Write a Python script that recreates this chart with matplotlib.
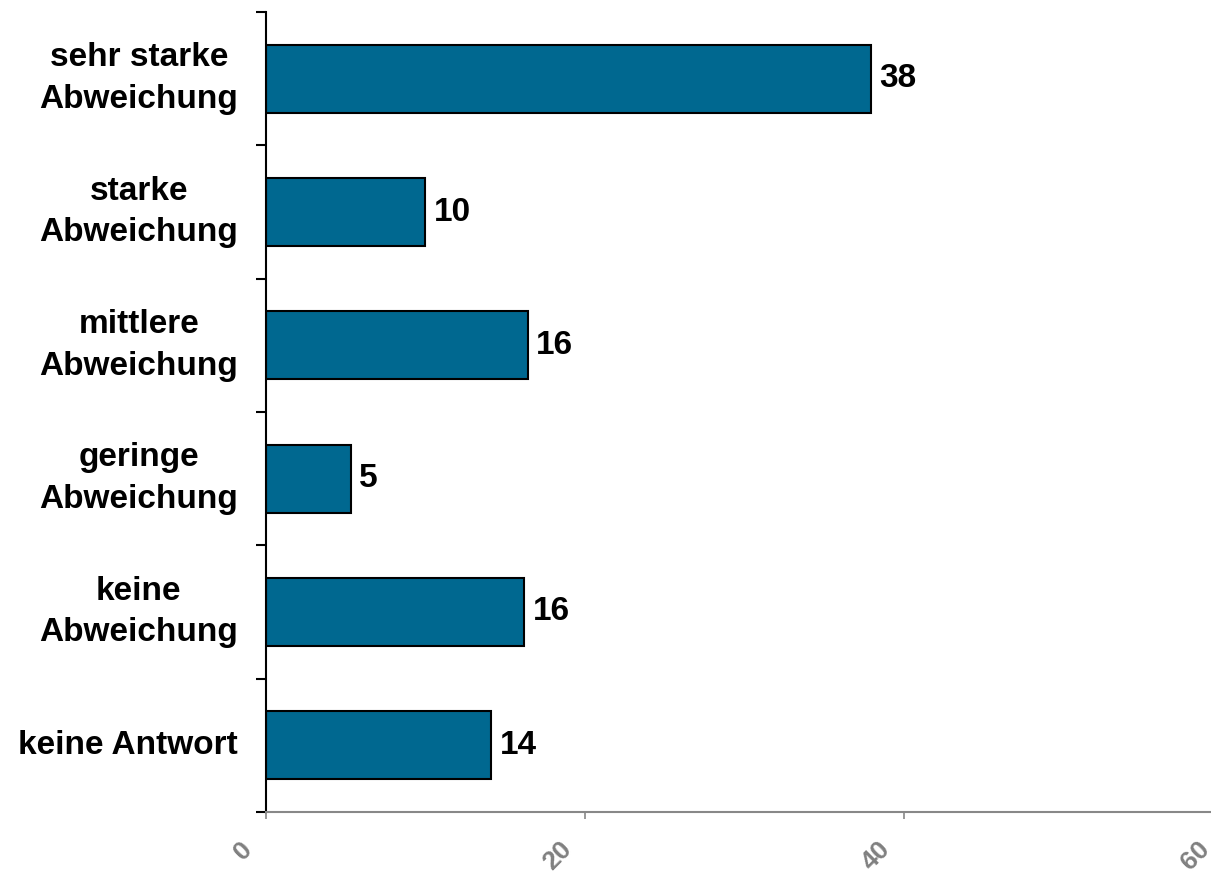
import matplotlib
matplotlib.use("Agg")
import matplotlib.pyplot as plt
import matplotlib.transforms as mtransforms

plt.rcParams['font.family'] = ['Liberation Sans', 'DejaVu Sans']

# survey answers, top to bottom
categories = ["sehr starke\nAbweichung", "starke\nAbweichung", "mittlere\nAbweichung",
              "geringe\nAbweichung", "keine\nAbweichung", "keine Antwort"]
values = [37.9, 10.0, 16.4, 5.3, 16.2, 14.1]
xticks = [0, 20, 40, 60]

bar_color = "#006890"
axis_grey = "#888888"

fig = plt.figure(figsize=(12.11, 8.76), dpi=100)
ax = fig.add_axes([266 / 1211, 1 - 812 / 876, (1223 - 266) / 1211, 800 / 876])

n = len(categories)
pos = list(range(n - 1, -1, -1))
ax.barh(pos, values, height=0.51, color=bar_color, edgecolor="black", linewidth=1.5)

for p, v in zip(pos, values):
    ax.text(v + 0.55, p, f"{v:.0f}", va="center", ha="left",
            fontsize=24, fontweight="bold", color="black")

ax.set_xlim(0, 60)
ax.set_ylim(-0.5, n - 0.5)

# boundaries between categories carry the tick marks, labels sit on minor ticks
ax.set_yticks([i - 0.5 for i in range(n + 1)])
ax.set_yticklabels([])
ax.set_yticks(pos, categories, minor=True)
ax.tick_params(axis="y", which="major", direction="out", length=7, width=1.5, color="black")
ax.tick_params(axis="y", which="minor", length=0, pad=20)
for lab in ax.get_yticklabels(minor=True):
    lab.set_multialignment("center")
    lab.set_verticalalignment("center")
    lab.set_linespacing(1.45)
    lab.set_fontsize(24)
    lab.set_fontweight("bold")

ax.set_xticks(xticks)
ax.set_xticklabels([str(t) for t in xticks], rotation=45, ha="right",
                   fontsize=19, fontweight="bold", color="#808080")
ax.tick_params(axis="x", direction="out", length=5, width=1.2, color=axis_grey, pad=13)
shift = mtransforms.ScaledTranslation(-9 / 100, 0, fig.dpi_scale_trans)
for lab in ax.get_xticklabels():
    lab.set_transform(lab.get_transform() + shift)

for side in ["top", "right"]:
    ax.spines[side].set_visible(False)
ax.spines["left"].set_color("black")
ax.spines["left"].set_linewidth(1.5)
ax.spines["bottom"].set_color(axis_grey)
ax.spines["bottom"].set_linewidth(1.5)

fig.savefig("out.png", dpi=100)
